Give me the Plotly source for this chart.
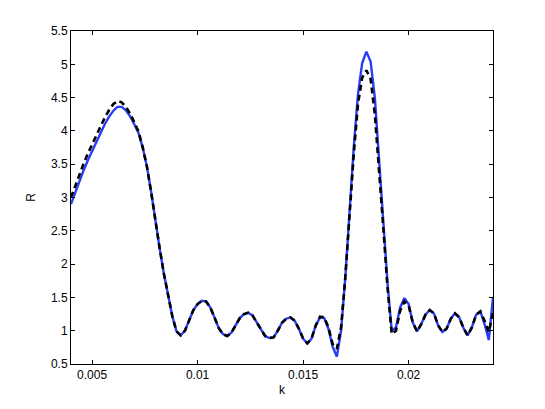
import plotly.graph_objects as go

# wavenumber grid
k = [round(0.004 + 0.0002 * i, 4) for i in range(101)]

# solid blue curve
r_blue = [
    2.90, 3.08, 3.25, 3.41, 3.56, 3.70, 3.84, 3.97, 4.10, 4.21,
    4.30, 4.36, 4.36, 4.31, 4.22, 4.10, 3.97, 3.75, 3.46, 3.08,
    2.64, 2.24, 1.86, 1.52, 1.22, 0.99, 0.93, 1.00, 1.15, 1.31,
    1.40, 1.45, 1.44, 1.35, 1.20, 1.04, 0.95, 0.92, 0.97, 1.08,
    1.19, 1.25, 1.27, 1.23, 1.12, 1.01, 0.92, 0.89, 0.90, 1.00,
    1.12, 1.18, 1.20, 1.15, 1.03, 0.88, 0.81, 0.88, 1.08, 1.20,
    1.19, 1.03, 0.76, 0.61, 1.00, 1.80, 2.80, 3.75, 4.55, 5.02,
    5.19, 5.04, 4.50, 3.60, 2.62, 1.72, 1.00, 1.05, 1.35, 1.49,
    1.40, 1.12, 0.99, 1.10, 1.24, 1.31, 1.26, 1.08, 0.98, 1.03,
    1.18, 1.26, 1.20, 1.04, 0.93, 1.05, 1.24, 1.29, 1.10, 0.86,
    1.50,
]

# dashed black curve
r_black = [
    3.00, 3.18, 3.35, 3.51, 3.66, 3.80, 3.94, 4.07, 4.20, 4.31,
    4.40, 4.45, 4.43, 4.36, 4.26, 4.13, 3.99, 3.75, 3.46, 3.08,
    2.64, 2.24, 1.86, 1.52, 1.22, 0.99, 0.93, 1.00, 1.15, 1.31,
    1.40, 1.45, 1.44, 1.35, 1.20, 1.04, 0.95, 0.92, 0.97, 1.08,
    1.19, 1.25, 1.27, 1.23, 1.12, 1.01, 0.92, 0.89, 0.90, 1.00,
    1.12, 1.18, 1.20, 1.15, 1.03, 0.88, 0.81, 0.88, 1.08, 1.21,
    1.20, 1.05, 0.80, 0.73, 1.05, 1.80, 2.75, 3.65, 4.40, 4.80,
    4.91, 4.78, 4.25, 3.45, 2.55, 1.65, 0.95, 1.00, 1.30, 1.44,
    1.38, 1.12, 0.99, 1.10, 1.24, 1.31, 1.26, 1.08, 0.98, 1.03,
    1.18, 1.26, 1.20, 1.04, 0.93, 1.05, 1.24, 1.29, 1.15, 0.98,
    1.27,
]

xticks = [0.005, 0.01, 0.015, 0.02]
xticklabels = ["0.005", "0.01", "0.015", "0.02"]
yticks = [0.5, 1, 1.5, 2, 2.5, 3, 3.5, 4, 4.5, 5, 5.5]
yticklabels = ["0.5", "1", "1.5", "2", "2.5", "3", "3.5", "4", "4.5", "5", "5.5"]

fig = go.Figure()
fig.add_trace(go.Scatter(x=k, y=r_blue, mode='lines',
                         line={'color': '#2a3cf5', 'width': 2.4}))
fig.add_trace(go.Scatter(x=k, y=r_black, mode='lines',
                         line={'color': 'black', 'width': 2.6, 'dash': '6px,4px'}))

axis_style = dict(showgrid=False, zeroline=False, showline=True, linecolor='black',
                  linewidth=1, mirror='ticks', ticks='inside', ticklen=4,
                  tickcolor='black', tickfont=dict(family='Liberation Sans', size=12,
                                                   color='black'))
title_font = dict(family='Liberation Sans', size=12, color='black')
# the page body adds 8px, so margins are trimmed to keep the box in place
fig.update_layout(
    width=545, height=409,
    margin=dict(l=63, r=60, t=23, b=53),
    paper_bgcolor='white', plot_bgcolor='white',
    showlegend=False,
    font=dict(family='Liberation Sans', size=12, color='black'),
    xaxis=dict(range=[0.004, 0.024], tickvals=xticks, ticktext=xticklabels,
               title=dict(text='k', standoff=4, font=title_font), **axis_style),
    yaxis=dict(range=[0.5, 5.5], tickvals=yticks, ticktext=yticklabels,
               title=dict(text='R', standoff=12, font=title_font), **axis_style),
)
fig.write_html("out.html")
